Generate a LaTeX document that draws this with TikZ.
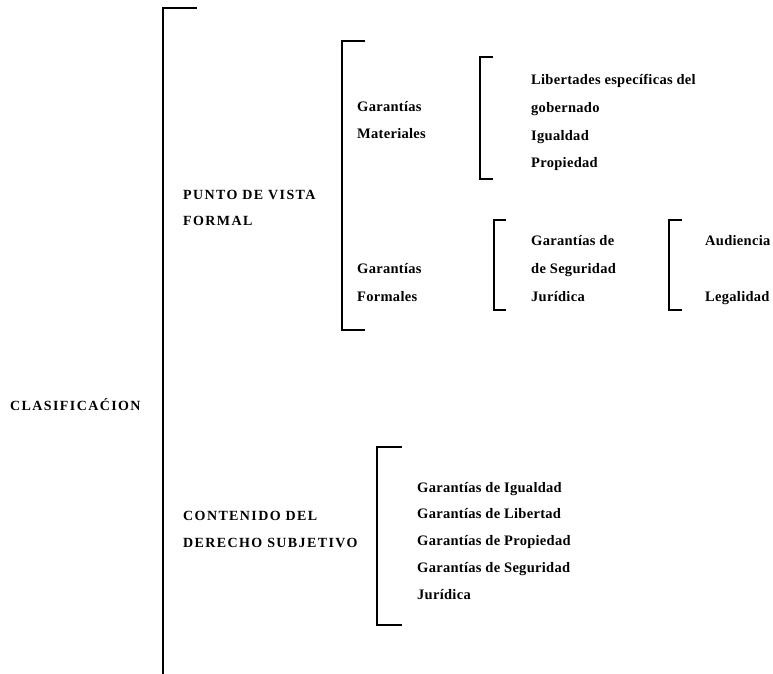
\documentclass[tikz,border=0pt]{standalone}
\usepackage{fontspec}
\setmainfont{Liberation Serif}
\newfontfamily\capsfont[LetterSpace=10]{Liberation Serif}
\newfontfamily\lowfont[LetterSpace=2]{Liberation Serif}
\begin{document}
\begin{tikzpicture}[x=1pt,y=-1pt,
  brk/.style={line width=1.3pt,black},
  captext/.style={anchor=base west,inner sep=0pt,font=\capsfont\bfseries\fontsize{14}{16}\selectfont},
  lowtext/.style={anchor=base west,inner sep=0pt,font=\lowfont\bfseries\fontsize{14.5}{16}\selectfont}]
\useasboundingbox (0,0) rectangle (773,674);
% brackets
\draw[brk] (197,8) -- (163,8) -- (163,674);
\draw[brk] (365,41) -- (342,41) -- (342,330) -- (365,330);
\draw[brk] (493,57) -- (480,57) -- (480,179) -- (493,179);
\draw[brk] (506,220) -- (494,220) -- (494,310) -- (506,310);
\draw[brk] (682,220) -- (669,220) -- (669,310) -- (682,310);
\draw[brk] (402,447) -- (377,447) -- (377,625) -- (402,625);
% texts
\node[captext] (clas) at (10,410) {CLASIFICA\'CION};
\node[captext] (pv1) at (183,199) {PUNTO DE VISTA};
\node[captext] (pv2) at (183,225) {FORMAL};
\node[captext] (cd1) at (183,520) {CONTENIDO DEL};
\node[captext] (cd2) at (183,547) {DERECHO SUBJETIVO};
\node[lowtext] (gm1) at (357,112) {Garantías};
\node[lowtext] (gm2) at (357,139) {Materiales};
\node[lowtext] (li1) at (531,85) {Libertades específicas del};
\node[lowtext] (li2) at (531,113) {gobernado};
\node[lowtext] (li3) at (531,140) {Igualdad};
\node[lowtext] (li4) at (531,167) {Propiedad};
\node[lowtext] (gf1) at (357,273) {Garantías};
\node[lowtext] (gf2) at (357,301) {Formales};
\node[lowtext] (gs1) at (531,245) {Garantías de};
\node[lowtext] (gs2) at (531,273) {de Seguridad};
\node[lowtext] (gs3) at (531,301) {Jurídica};
\node[lowtext] (au) at (705,245) {Audiencia};
\node[lowtext] (le) at (705,301) {Legalidad};
\node[lowtext] (c1) at (417,492) {Garantías de Igualdad};
\node[lowtext] (c2) at (417,518) {Garantías de Libertad};
\node[lowtext] (c3) at (417,545) {Garantías de Propiedad};
\node[lowtext] (c4) at (417,572) {Garantías de Seguridad};
\node[lowtext] (c5) at (417,599) {Jurídica};
\end{tikzpicture}
\end{document}
